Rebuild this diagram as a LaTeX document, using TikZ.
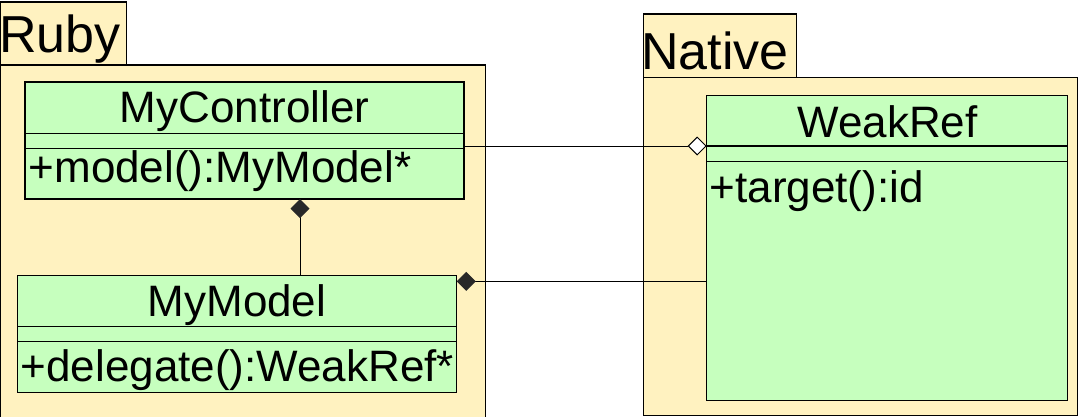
\documentclass[tikz,border=0pt]{standalone}
\usepackage{fontspec}
\setmainfont{Liberation Sans}
\usetikzlibrary{arrows.meta}
\definecolor{pkgfill}{RGB}{255,242,192}
\definecolor{clsfill}{RGB}{198,255,190}
\definecolor{diafill}{RGB}{40,40,40}
\begin{document}
\begin{tikzpicture}[x=1pt,y=-1pt,
  box/.style={draw=black,rectangle,inner sep=0pt,outer sep=0pt,anchor=north west,line width=1.1pt},
  pkgbox/.style={box,fill=pkgfill},
  clsbox/.style={box,fill=clsfill},
  pkglabel/.style={inner sep=0pt,font=\fontsize{52pt}{60pt}\selectfont},
  clslabel/.style={inner sep=0pt,font=\fontsize{44pt}{52pt}\selectfont},
  divider/.style={line width=1.1pt},
  conn/.style={line width=1pt,draw=black},
  comp/.style={conn,-{Diamond[length=19pt,width=19pt,color=diafill]}},
  aggr/.style={conn,-{Diamond[length=19pt,width=19pt,fill=white]}}]
\useasboundingbox (0,0) rectangle (1078,416);
\clip (0,0) rectangle (1078,416);

% Ruby package
\node[pkgbox,minimum width=484.9pt,minimum height=360pt] (rubybody) at (0.6,65) {};
\node[pkgbox,minimum width=126pt,minimum height=63pt] (rubytab) at (0.6,2) {};
\node[pkglabel,anchor=base west] (rubylbl) at (-1.2,52.3) {Ruby};

% Native package
\node[pkgbox,minimum width=434pt,minimum height=338pt] (nativebody) at (643.3,77.3) {};
\node[pkgbox,minimum width=153.4pt,minimum height=63.3pt] (nativetab) at (643.3,14) {};
\node[pkglabel,anchor=base west] (nativelbl) at (641,69) {Native};

% MyController
\node[clsbox,minimum width=439pt,minimum height=117pt] (mc) at (25,82) {};
\draw[divider] (25,133.7) -- (464,133.7);
\draw[divider] (25,148.3) -- (464,148.3);
\node[clslabel,anchor=base] (mcname) at (244.5,122.3) {MyController};
\node[clslabel,anchor=base west] (mcop) at (28.5,182) {+model():MyModel*};

% MyModel
\node[clsbox,minimum width=439.5pt,minimum height=116.6pt] (mm) at (17.2,275.7) {};
\draw[divider] (17.2,326.7) -- (456.7,326.7);
\draw[divider] (17.2,341.7) -- (456.7,341.7);
\node[clslabel,anchor=base] (mmname) at (237,316.7) {MyModel};
\node[clslabel,anchor=base west] (mmop) at (20.5,381.7) {+delegate():WeakRef*};

% WeakRef
\node[clsbox,minimum width=360.8pt,minimum height=304.6pt] (wr) at (706.7,95.7) {};
\draw[divider] (706.7,146) -- (1067.5,146);
\draw[divider] (706.7,161.3) -- (1067.5,161.3);
\node[clslabel,anchor=base] (wrname) at (887.5,137.7) {WeakRef};
\node[clslabel,anchor=base west] (wrop) at (709.5,202.3) {+target():id};

% Connectors
\draw[aggr] (mc.east |- 0,146) -- (wr.west |- 0,146);
\draw[comp] (wr.west |- 0,281.3) -- (mm.east |- 0,281.3);
\draw[comp] (mm.north -| 300,0) -- (mc.south -| 300,0);
\end{tikzpicture}
\end{document}
